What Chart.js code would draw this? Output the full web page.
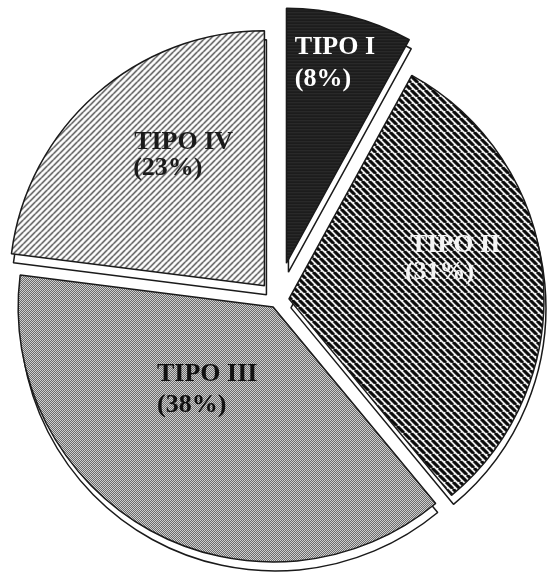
<!DOCTYPE html>
<html>
<head>
<meta charset="utf-8">
<script src="https://cdn.jsdelivr.net/npm/chart.js@4/dist/chart.umd.min.js"></script>
<style>
  html, body { margin: 0; padding: 0; background: #ffffff; overflow: hidden; }
  #wrap { position: absolute; left: 0; top: 0; width: 548px; height: 582px; }
</style>
</head>
<body>
<div id="wrap"><canvas id="pie"></canvas></div>
<script>
// Slice names and their shares (%)
const categories = ['TIPO I', 'TIPO II', 'TIPO III', 'TIPO IV'];
const percentages = [8, 31, 38, 23];

// How far each slice is pulled out of the pie (px)
const explode = [38, 12, 8, 19];
// Depth of the white extruded edge under each slice (px)
const RIM = [2, 9];
// Label placement: angle from 12 o'clock (deg) and distance as a fraction of the radius
const labelAngle = [2.3, 68.8, 237.5, 316.4];
const labelDist = [0.821, 0.509, 0.540, 0.741];
const labelGap = [32, 27, 31, 26];
const line2Shift = [0, -5, 0, -1];
const labelColors = ['#ffffff', '#f4f4f4', '#111111', '#1a1a1a'];

// ---- fill patterns ----
function tile(w, h, paint) {
  const c = document.createElement('canvas');
  c.width = w; c.height = h;
  const g = c.getContext('2d');
  paint(g, w, h);
  return g.createPattern(c, 'repeat');
}
function stripes(size, lineW, fg, bg, dir) {
  return tile(size, size, (g, s) => {
    g.fillStyle = bg; g.fillRect(0, 0, s, s);
    g.strokeStyle = fg; g.lineWidth = lineW;
    g.beginPath();
    for (let k = -1; k <= 1; k++) {
      if (dir > 0) { g.moveTo(k * s, s); g.lineTo(k * s + s, 0); }
      else { g.moveTo(k * s, 0); g.lineTo(k * s + s, s); }
    }
    g.stroke();
  });
}
const fillDark = tile(4, 3, (g, w, h) => {
  g.fillStyle = '#1c1c1c'; g.fillRect(0, 0, w, h);
  g.fillStyle = '#2e2e2e'; g.fillRect(0, 1, w, 1);
});
const fillStripes = stripes(7, 3.1, '#0a0a0a', '#f5f5f5', -1);
const fillDots = tile(2, 2, (g) => {
  g.fillStyle = '#f8f8f8'; g.fillRect(0, 0, 2, 2);
  g.fillStyle = '#444444'; g.fillRect(0, 0, 1, 1); g.fillRect(1, 1, 1, 1);
});
const fillHatch = stripes(6, 1.2, '#1a1a1a', '#ffffff', 1);
const fills = [fillDark, fillStripes, fillDots, fillHatch];

// Draws the slices pulled apart, each with a white extruded edge, then the labels
const explodedPie = {
  id: 'explodedPie',
  beforeDatasetDraw(chart, args) {
    const ctx = chart.ctx;
    const arcs = args.meta.data;
    const pull = (el, i) => {
      const mid = (el.startAngle + el.endAngle) / 2;
      return [Math.cos(mid) * explode[i], Math.sin(mid) * explode[i]];
    };
    arcs.forEach((el, i) => {
      const [dx, dy] = pull(el, i);
      const rim = Object.create(el);
      rim.options = Object.assign({}, el.options, { backgroundColor: '#ffffff' });
      ctx.save();
      ctx.translate(dx + RIM[0], dy + RIM[1]);
      rim.draw(ctx);
      ctx.restore();
    });
    arcs.forEach((el, i) => {
      const [dx, dy] = pull(el, i);
      ctx.save();
      ctx.translate(dx, dy);
      el.draw(ctx);
      ctx.restore();
    });
    ctx.save();
    ctx.font = 'bold 26px "Liberation Serif", "Times New Roman", serif';
    ctx.textAlign = 'left';
    ctx.textBaseline = 'alphabetic';
    arcs.forEach((el, i) => {
      const [dx, dy] = pull(el, i);
      const a = labelAngle[i] * Math.PI / 180 - Math.PI / 2;
      const px = el.x + dx + Math.cos(a) * labelDist[i] * el.outerRadius;
      const py = el.y + dy + Math.sin(a) * labelDist[i] * el.outerRadius;
      ctx.fillStyle = labelColors[i];
      ctx.fillText(categories[i], px, py);
      ctx.fillText('(' + percentages[i] + '%)', px + line2Shift[i], py + labelGap[i]);
    });
    ctx.restore();
    return false;
  }
};

new Chart(document.getElementById('pie'), {
  type: 'pie',
  data: {
    labels: categories,
    datasets: [{
      data: percentages,
      backgroundColor: fills,
      borderColor: '#1a1a1a',
      borderWidth: 1.5
    }]
  },
  options: {
    responsive: true,
    maintainAspectRatio: false,
    animation: false,
    events: [],
    radius: 255,
    layout: { padding: { left: 6, right: 0, top: 18, bottom: 0 } },
    plugins: {
      legend: { display: false },
      tooltip: { enabled: false }
    }
  },
  plugins: [explodedPie]
});
</script>
</body>
</html>
